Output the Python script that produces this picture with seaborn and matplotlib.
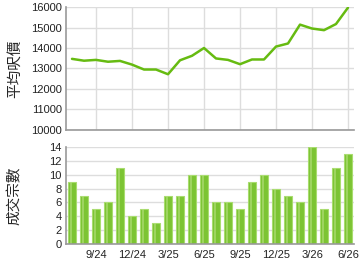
import matplotlib
matplotlib.use("Agg")
import matplotlib.pyplot as plt
import seaborn as sns
import pandas as pd
import numpy as np

months = ["7/24","8/24","9/24","10/24","11/24","12/24","1/25","2/25","3/25","4/25","5/25","6/25",
          "7/25","8/25","9/25","10/25","11/25","12/25","1/26","2/26","3/26","4/26","5/26","6/26"]
avg_price = [13470, 13380, 13420, 13330, 13370, 13190, 12950, 12950, 12720, 13400, 13620, 14000,
             13490, 13420, 13210, 13440, 13440, 14070, 14220, 15140, 14950, 14870, 15170, 15970]
counts = [9, 7, 5, 6, 11, 4, 5, 3, 7, 7, 10, 10, 6, 6, 5, 9, 10, 8, 7, 6, 14, 5, 11, 13]
tick_labels = ["9/24","12/24","3/25","6/25","9/25","12/25","3/26","6/26"]
price_ticks = [10000, 11000, 12000, 13000, 14000, 15000, 16000]
count_ticks = [0, 2, 4, 6, 8, 10, 12, 14]

sns.set_style("white")
plt.rcParams['font.family'] = ['Liberation Sans', 'Noto Sans CJK TC', 'DejaVu Sans']

df = pd.DataFrame({"idx": np.arange(len(months)), "month": months,
                   "price": avg_price, "count": counts})

fig = plt.figure(figsize=(3.6, 2.7), dpi=100)
ax1 = fig.add_axes([66/360, 1-130/270, 288/360, 123/270])
ax2 = fig.add_axes([66/360, 1-244/270, 288/360, 97/270])

grid_c = "#dddddd"
spine_c = "#999999"
tick_pos = [months.index(t) for t in tick_labels]

for ax in (ax1, ax2):
    ax.set_axisbelow(True)
    ax.grid(True, color=grid_c, linewidth=1)
    for s in ["top", "right"]:
        ax.spines[s].set_visible(False)
    for s in ["left", "bottom"]:
        ax.spines[s].set_color(spine_c)
        ax.spines[s].set_linewidth(1.2)

sns.lineplot(data=df, x="idx", y="price", ax=ax1, color="#66bb11", linewidth=1.8)
ax1.set_xlim(-0.5, 23.5)
ax1.set_ylim(10000, 16000)
ax1.set_yticks(price_ticks)
ax1.set_xticks(tick_pos)
ax1.set_xticklabels([])
ax1.tick_params(axis="both", length=0, labelsize=8, colors="#222222", pad=3)
ax1.set_xlabel("")
ax1.set_ylabel("平均呎價", fontsize=10.5, family=['Noto Sans CJK TC'])
ax1.yaxis.set_label_coords(-44/288, 0.5)

sns.barplot(data=df, x="idx", y="count", ax=ax2, color="#7cc433", width=0.68,
            edgecolor="#a8dc6e", linewidth=0.8, saturation=1)
# lighter highlight strip inside each bar for a gradient look
for p in ax2.patches:
    x0, w, h = p.get_x(), p.get_width(), p.get_height()
    ax2.bar(x0 + w*0.3, h, width=w*0.22, align="edge", color="#b5e07f",
            linewidth=0, alpha=0.6, zorder=p.get_zorder()+0.1)
ax2.set_xlim(-0.5, 23.5)
ax2.set_ylim(0, 14)
ax2.set_yticks(count_ticks)
ax2.set_xticks(tick_pos)
ax2.set_xticklabels(tick_labels)
ax2.tick_params(axis="y", length=0, labelsize=8, colors="#222222", pad=3)
ax2.tick_params(axis="x", length=3, color=spine_c, labelsize=8, labelcolor="#222222", pad=1)
ax2.set_xlabel("")
ax2.set_ylabel("成交宗數", fontsize=10.5, family=['Noto Sans CJK TC'])
ax2.yaxis.set_label_coords(-44/288, 0.5)

fig.savefig("out.png", dpi=100)
